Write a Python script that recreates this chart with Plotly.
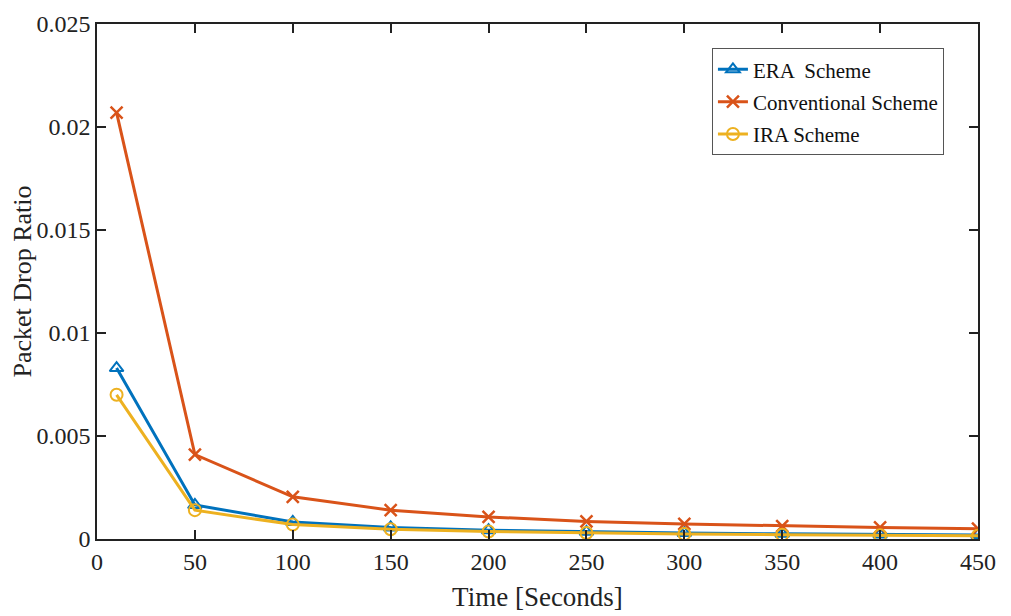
import plotly.graph_objects as go

# time points (seconds)
time_s = [10, 50, 100, 150, 200, 250, 300, 350, 400, 450]

# packet drop ratio per scheme
era = [0.0083, 0.00165, 0.00083, 0.00056, 0.00043, 0.00035, 0.00029, 0.00025, 0.00022, 0.0002]
conventional = [0.0207, 0.0041, 0.00205, 0.0014, 0.00107, 0.00085, 0.00073, 0.00063, 0.00056, 0.0005]
ira = [0.007, 0.0014, 0.0007, 0.00047, 0.00036, 0.00029, 0.00024, 0.00021, 0.00018, 0.00016]

x_ticks = [0, 50, 100, 150, 200, 250, 300, 350, 400, 450]
y_ticks = [0, 0.005, 0.01, 0.015, 0.02, 0.025]
y_tick_text = ["0", "0.005", "0.01", "0.015", "0.02", "0.025"]

font = "Liberation Serif, Times New Roman, serif"

fig = go.Figure()
fig.add_trace(go.Scatter(
    x=time_s, y=era, name="ERA  Scheme", mode="lines+markers", legendgroup="a",
    line=dict(color="#0072BD", width=3),
    marker=dict(symbol="triangle-up-open", size=12, line=dict(width=2, color="#0072BD"))
))
fig.add_trace(go.Scatter(
    x=time_s, y=conventional, name="Conventional Scheme", mode="lines+markers", legendgroup="b",
    line=dict(color="#D95319", width=3),
    marker=dict(symbol="x-thin-open", size=12, line=dict(width=2.5, color="#D95319"))
))
fig.add_trace(go.Scatter(
    x=time_s, y=ira, name="IRA Scheme", mode="lines+markers", legendgroup="c",
    line=dict(color="#EDB120", width=3),
    marker=dict(symbol="circle-open", size=12, line=dict(width=2, color="#EDB120"))
))

axis_common = dict(
    showgrid=False, zeroline=False, showline=True, linecolor="#222222", linewidth=1.5,
    mirror="ticks", ticks="inside", ticklen=9, tickwidth=1.5, tickcolor="#222222",
    tickfont=dict(family=font, size=24, color="#222222"), automargin=False,
)

fig.update_xaxes(
    range=[0, 450], tickvals=x_ticks,
    title=dict(text="Time [Seconds]", font=dict(family=font, size=27, color="#222222"), standoff=14),
    **axis_common
)
fig.update_yaxes(
    range=[0, 0.025], tickvals=y_ticks, ticktext=y_tick_text,
    title=dict(text="Packet Drop Ratio", font=dict(family=font, size=26, color="#222222"), standoff=2),
    **axis_common
)

# page body adds an 8px offset, so the figure is slightly smaller than the window
fig.update_layout(
    width=1003, height=608,
    margin=dict(l=89, r=33, t=16, b=77),
    plot_bgcolor="white", paper_bgcolor="white",
    font=dict(family=font, color="#222222"),
    legend=dict(
        x=0.698, y=0.953, xanchor="left", yanchor="top",
        bgcolor="white", bordercolor="#555555", borderwidth=1,
        font=dict(family=font, size=21, color="#111111"),
        itemwidth=30, traceorder="grouped", tracegroupgap=2,
    ),
)

fig.write_html("out.html")
